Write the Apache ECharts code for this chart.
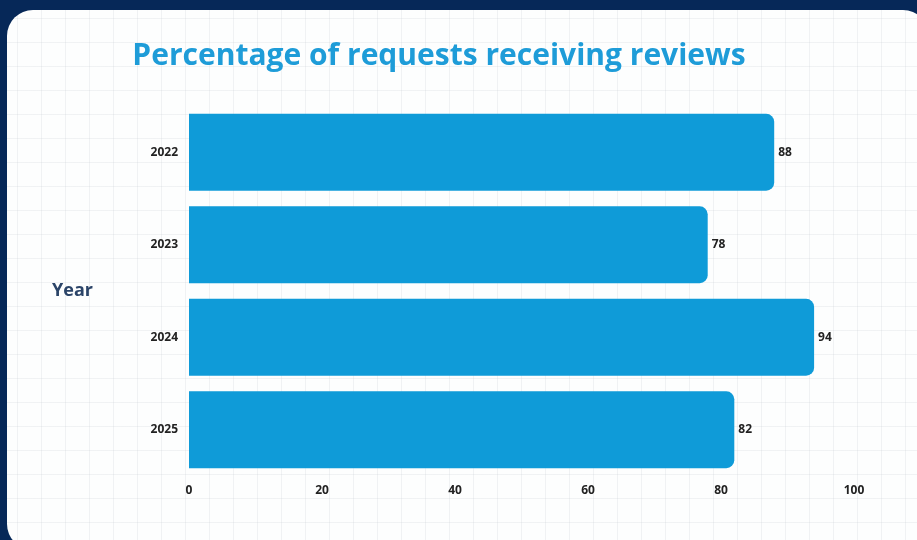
<!DOCTYPE html>
<html>
<head>
<meta charset="utf-8">
<script src="https://cdn.jsdelivr.net/npm/echarts@6/dist/echarts.min.js"></script>
<style>
  html, body { margin: 0; padding: 0; width: 917px; height: 540px; background: #062858; overflow: hidden; }
  #card {
    position: absolute; left: 7px; top: 10px; width: 922px; height: 540px;
    border-radius: 26px; background-color: #fdfefe;
    background-image:
      linear-gradient(to right, rgba(200,208,215,0.25) 1px, transparent 1px),
      linear-gradient(to bottom, rgba(200,208,215,0.25) 1px, transparent 1px);
    background-size: 24px 24px;
    background-position: 10px 8px;
  }
  #chart { position: absolute; left: 0; top: 0; width: 917px; height: 540px; }
</style>
</head>
<body>
<div id="card"></div>
<div id="chart"></div>
<script>
const titleText = "Percentage of requests receiving reviews";
const years = ["2022", "2023", "2024", "2025"];
const percentages = [88, 78, 94, 82];
const axisName = "Year";

const chart = echarts.init(document.getElementById('chart'), null, { renderer: 'canvas' });
chart.setOption({
  backgroundColor: 'transparent',
  animation: false,
  title: {
    text: titleText,
    left: 434, top: 36, textAlign: 'center',
    textStyle: { color: '#1e9cd8', fontFamily: 'Open Sans', fontWeight: 700, fontSize: 30 }
  },
  grid: { left: 189, right: 63, top: 106, bottom: 64, containLabel: false },
  xAxis: {
    type: 'value', min: 0, max: 100, interval: 20,
    axisLine: { show: false }, axisTick: { show: false }, splitLine: { show: false },
    axisLabel: { color: '#222', fontFamily: 'Open Sans', fontWeight: 700, fontSize: 12, margin: 9 }
  },
  yAxis: {
    type: 'category', data: years, inverse: true,
    name: axisName, nameLocation: 'middle', nameRotate: 0, nameGap: 96,
    nameTextStyle: { color: '#2b4468', fontFamily: 'Open Sans', fontWeight: 700, fontSize: 18 },
    axisLine: { show: false }, axisTick: { show: false }, splitLine: { show: false },
    axisLabel: { color: '#222', fontFamily: 'Open Sans', fontWeight: 700, fontSize: 12, margin: 11 }
  },
  series: [{
    type: 'bar', data: percentages, barCategoryGap: '17%',
    itemStyle: { color: '#0f9bd8', borderRadius: [0, 8, 8, 0] },
    label: { show: true, position: 'right', distance: 4, color: '#222', fontFamily: 'Open Sans', fontWeight: 700, fontSize: 12 }
  }]
});
</script>
</body>
</html>
